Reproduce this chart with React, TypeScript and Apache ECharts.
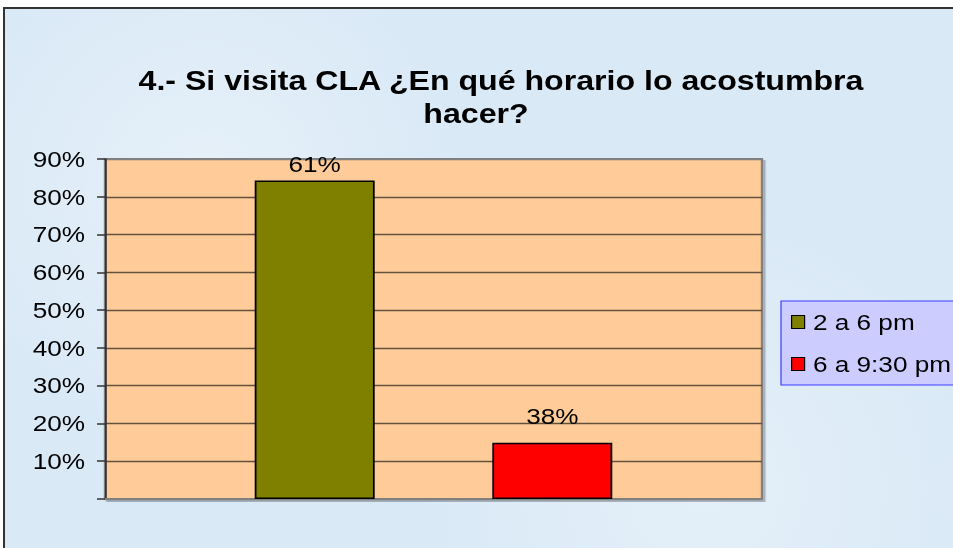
import React, { useEffect, useRef } from 'react';
import * as echarts from 'echarts';

// ---- data ----
const titleLines = ['4.- Si visita CLA ¿En qué horario lo acostumbra', 'hacer?'];
const categories = ['Horario'];
const seriesNames = ['2 a 6 pm', '6 a 9:30 pm'];
const seriesValues = [84.3, 14.9];
const labelTexts = ['61%', '38%'];
const seriesColors = ['#808000', '#FF0000'];
const yMin = 0;
const yMax = 90;
const yStep = 10;

// ---- layout (reference image is horizontally stretched) ----
const SX = 953 / 801;
const W = 801;
const H = 548;
const FONT = 'Liberation Sans, Arial, sans-serif';
const u = (x: number) => x / SX; // reference x -> unscaled x

export default function App() {
  const ref = useRef<HTMLDivElement>(null);
  useEffect(() => {
    if (!ref.current) return;
    const chart = echarts.init(ref.current, null, { renderer: 'svg' });
    const gridLeft = u(105);
    const gridRight = u(762);
    const splitColors = [];
    for (let v = yMin; v <= yMax; v += yStep) {
      splitColors.push(v === yMin || v === yMax ? '#808080' : '#64513d');
    }
    chart.setOption({
      animation: false,
      backgroundColor: 'transparent',
      graphic: [
        {
          type: 'text',
          x: u(501),
          y: 80,
          style: {
            text: titleLines[0],
            font: `bold 27px ${FONT}`,
            fill: '#000',
            align: 'center',
            verticalAlign: 'middle',
          },
        },
        {
          type: 'text',
          x: u(476),
          y: 113,
          style: {
            text: titleLines[1],
            font: `bold 27px ${FONT}`,
            fill: '#000',
            align: 'center',
            verticalAlign: 'middle',
          },
        },
      ],
      legend: {
        orient: 'vertical',
        left: u(781),
        top: 301,
        padding: [10, 200, 10, u(791) - u(781)],
        backgroundColor: '#CCCCFF',
        borderColor: '#3b3bff',
        borderWidth: 1,
        borderRadius: 0,
        itemWidth: u(13),
        itemHeight: 13,
        itemGap: 20,
        icon: 'rect',
        itemStyle: { borderColor: '#000', borderWidth: 1 },
        textStyle: { fontSize: 22, fontFamily: FONT, color: '#000', padding: [0, 0, 0, 2] },
        data: seriesNames,
      },
      grid: {
        left: gridLeft,
        top: 159,
        width: gridRight - gridLeft,
        height: 340,
        show: true,
        backgroundColor: '#FFCC99',
        borderColor: '#808080',
        borderWidth: 2,
        shadowColor: 'rgba(0,0,0,0.25)',
        shadowOffsetX: 2,
        shadowOffsetY: 2,
        shadowBlur: 0,
        containLabel: false,
      },
      xAxis: {
        type: 'category',
        data: categories,
        axisLine: { show: true, lineStyle: { color: '#808080', width: 2 } },
        axisTick: { show: false },
        axisLabel: { show: false },
        splitLine: { show: false },
      },
      yAxis: {
        type: 'value',
        min: yMin,
        max: yMax,
        interval: yStep,
        axisLine: { show: true, lineStyle: { color: '#333', width: 1.5 } },
        axisTick: { show: true, inside: false, length: u(8), lineStyle: { color: '#333', width: 1.5 } },
        axisLabel: {
          margin: u(105) - u(85),
          fontSize: 22,
          fontFamily: FONT,
          color: '#000',
          formatter: (v: number) => (v === 0 ? '' : `${v}%`),
        },
        splitLine: { show: true, lineStyle: { color: splitColors, width: 1.3 } },
      },
      series: seriesNames.map((name, i) => ({
        type: 'bar',
        name,
        data: [seriesValues[i]],
        barWidth: u(120),
        barGap: '98%',
        itemStyle: { color: seriesColors[i], borderColor: '#000', borderWidth: 1.5 },
        label: {
          show: true,
          position: 'top',
          distance: i === 0 ? 5 : 15,
          fontSize: 22,
          fontFamily: FONT,
          color: '#000',
          formatter: () => labelTexts[i],
        },
      })),
    });
    return () => chart.dispose();
  }, []);

  return (
    <div style={{ position: 'fixed', left: 0, top: 0, width: 953, height: H, background: '#fff', overflow: 'hidden' }}>
      <div
        style={{
          position: 'absolute',
          left: 3,
          top: 7,
          width: 1000,
          height: 600,
          boxSizing: 'border-box',
          borderLeft: '2px solid #333',
          borderTop: '2px solid #333',
          background:
            'radial-gradient(circle at 20% 30%, rgba(255,255,255,0.35), rgba(255,255,255,0) 30%), radial-gradient(circle at 70% 80%, rgba(255,255,255,0.3), rgba(255,255,255,0) 35%), #d9e9f6',
        }}
      />
      <div
        ref={ref}
        style={{
          position: 'absolute',
          left: 0,
          top: 0,
          width: W,
          height: H,
          transform: `scaleX(${SX})`,
          transformOrigin: '0 0',
        }}
      />
    </div>
  );
}
